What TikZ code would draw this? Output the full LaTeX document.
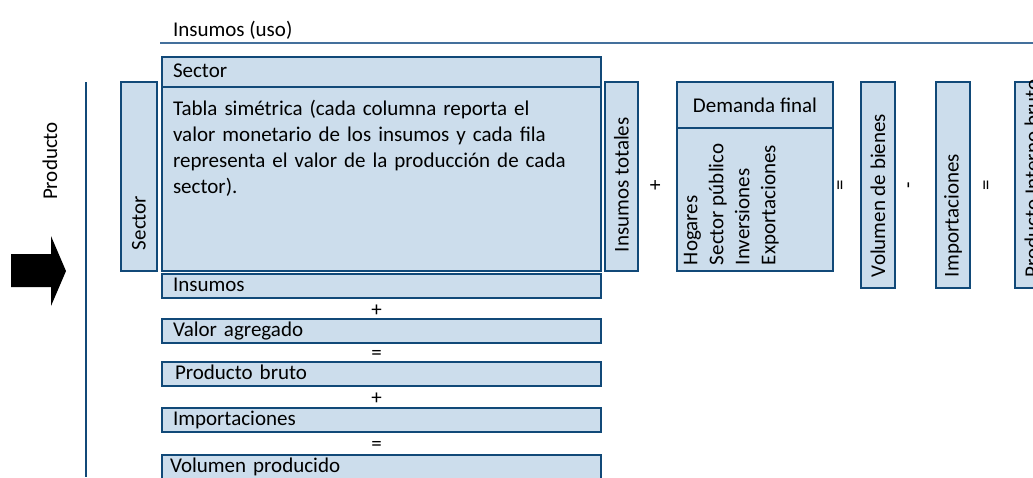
\documentclass[tikz,border=0pt]{standalone}
\usepackage{fontspec}
\setmainfont{Carlito}
\usetikzlibrary{calc,positioning}
\definecolor{boxfill}{RGB}{204,221,236}
\definecolor{boxline}{RGB}{17,73,120}
\definecolor{rulecol}{RGB}{68,112,156}

\begin{document}
\begin{tikzpicture}[x=0.5pt,y=-0.5pt,
    every node/.style={font=\fontsize{10.5}{13}\selectfont, text=black, inner sep=0pt, outer sep=0pt},
    box/.style={draw=boxline, fill=boxfill, line width=1pt, anchor=north west},
    rowbox/.style={box, text width=208.5pt, inner xsep=5.5pt, minimum height=12pt, align=left,
      text height=7pt, text depth=2pt},
    colbox/.style={box, minimum width=17pt, minimum height=103pt},
    vtext/.style={rotate=90, anchor=west},
    op/.style={rotate=90}]

        \useasboundingbox (0,0) rectangle (1033,477);

        %% header line
        \node [anchor=base west] (uso_lbl) at (173,36) {Insumos (uso)};
        \coordinate (uso_l) at (160,43);
        \coordinate (uso_r) at (1033,43);
        \draw [rulecol, line width=1pt] (uso_l) -- (uso_r);

        %% product axis
        \node [rotate=90] (prod_lbl) at (50,161) {Producto};
        \coordinate (axis_top) at (86,82);
        \coordinate (axis_bot) at (86,477);
        \draw [boxline, line width=1pt] (axis_top) -- (axis_bot);
        \fill [black] (11,254) -- (51,254) -- (51,236) -- (66,271) -- (51,306) -- (51,287) -- (11,287) -- cycle;

        %% symmetric table
        \node [rowbox, minimum height=15pt, text height=7.5pt, text depth=2.5pt] (sec_head) at (162,57) {Sector};
        \node [box, minimum width=219.5pt, minimum height=92pt] (tabla) at (162,87) {};
        \node [anchor=north west, text width=205pt, align=left] (tabla_txt) at ($(tabla.north west)+(11,13)$)
          {Tabla simétrica (cada columna reporta el\\
           valor monetario de los insumos y cada fila\\
           representa el valor de la producción de cada\\
           sector).};
        \node [box, minimum width=18pt, minimum height=94.5pt] (sec_col) at (121,82) {};
        \node [vtext] (sec_col_txt) at ($(sec_col.south)+(0,-21)$) {Sector};

        %% rows below the table
        \foreach \lbl/\ytop [count=\i] in {Insumos/274, Valor agregado/319, {\hspace{1pt}Producto bruto}/362,
                                          Importaciones/408, {\hspace{-1.5pt}Volumen producido}/455} {
          \node [rowbox] (row_\i) at (162,\ytop) {\lbl};
        }
        \foreach \i/\op in {1/+,2/=,3/+,4/=} {
          \pgfmathtruncatemacro\j{\i+1}
          \node (op_row_\i) at ($(row_\i.south)!.5!(row_\j.north)+(-5,2)$) {\op};
        }

        %% totals and final demand
        \node [colbox, minimum width=16.5pt, minimum height=94.5pt] (tot_col) at (605,82) {};
        \node [vtext] (tot_col_txt) at ($(tot_col.south)+(0,-19)$) {Insumos totales};

        \node [box, minimum width=78pt, minimum height=23pt] (dem_head) at (677,82) {Demanda final};
        \node [box, minimum width=78pt, minimum height=71.5pt] (dem_body) at (dem_head.south west) {};
        \node [rotate=90, anchor=north west, align=left] (dem_txt) at ($(dem_body.south west)+(7,-6)$)
          {Hogares\\Sector público\\Inversiones\\Exportaciones};

        %% result columns
        \foreach \x/\lbl/\nm in {861/Volumen de bienes/vol, 936/Importaciones/imp, 1015/Producto Interno bruto/pib} {
          \node [colbox] (\nm_col) at (\x,82) {};
          \node [vtext] (\nm_txt) at ($(\nm_col.south)+(0,-11)$) {\lbl};
        }
        \foreach \x/\op [count=\i] in {656/+, 842/=, 911/-, 988/=} {
          \node [op] (op_col_\i) at (\x,185) {\op};
        }

      \end{tikzpicture}
\end{document}
